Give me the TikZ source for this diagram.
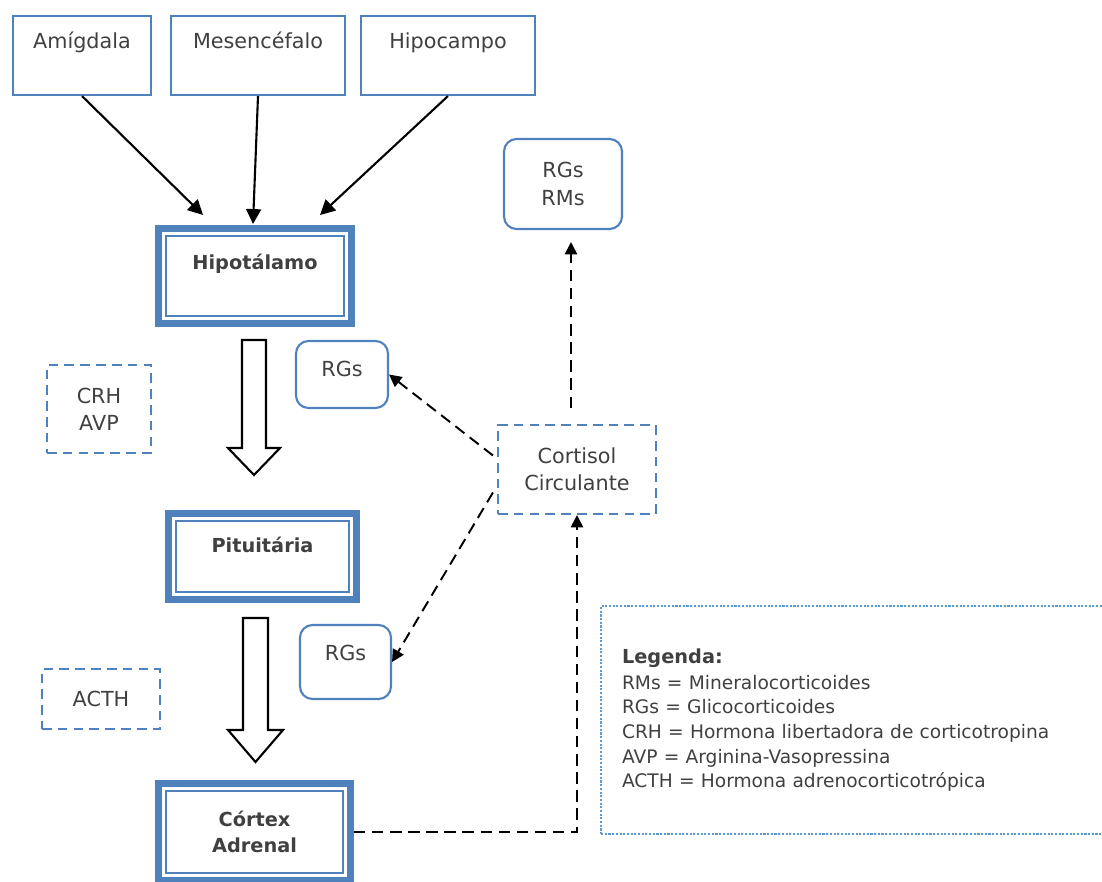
\documentclass[tikz,border=0pt]{standalone}
\usepackage{fontspec}
\setmainfont{DejaVu Sans}
\usepackage{xcolor}
\usepackage{tikz}
\usetikzlibrary{
    calc,
    positioning,
    arrows.meta
}
\definecolor{azul}{HTML}{4F81BD}
\definecolor{azulclaro}{HTML}{5B9BD5}
\definecolor{texto}{HTML}{404040}

\begin{document}
\begin{tikzpicture}[x=0.02cm, y=-0.02cm]
  \useasboundingbox (0,0) rectangle (1102,882);

  % Styles for boxes and arrows
  \tikzset{
    regiao/.style={draw=azul, line width=1.2pt, inner sep=0pt, text=texto,
      font=\fontsize{11.8}{15.5}\selectfont, text height=10pt, text depth=18pt},
    principal/.style={draw=azul, line width=3.9pt, inner sep=0pt, text=texto,
      font=\fontsize{11}{15}\selectfont\bfseries,
      path picture={\draw[azul, line width=1.4pt]
        ([shift={(4.4pt,-4.4pt)}]path picture bounding box.north west) rectangle
        ([shift={(-4.4pt,4.4pt)}]path picture bounding box.south east);}},
    receptor/.style={draw=azul, line width=1.2pt, rounded corners=0.25cm, inner sep=0pt,
      text=texto, align=center, font=\fontsize{11.8}{15.5}\selectfont},
    hormona/.style={draw=azul, line width=1.2pt, dash pattern=on 5.5pt off 3.5pt, inner sep=0pt,
      text=texto, align=center, font=\fontsize{11.8}{15.5}\selectfont},
    legenda/.style={draw=azulclaro, line width=1.2pt, dash pattern=on 1.2pt off 0.9pt,
      inner ysep=0pt, inner xsep=0.42cm, text=texto, align=left,
      font=\fontsize{10.6}{14}\selectfont},
    seta/.style={-{Triangle[length=8.5pt,width=8.5pt]}, line width=1.2pt},
    retro/.style={-{Triangle[length=7pt,width=7pt]}, line width=1.1pt, dash pattern=on 6.5pt off 3.8pt},
    bloco/.style={draw, line width=1.2pt, fill=white}
  }

  % Brain regions on top
  \node[regiao, minimum width=2.76cm, minimum height=1.58cm] (amig) at (82,55.5) {Amígdala};
  \node[regiao, minimum width=3.48cm, minimum height=1.58cm] (mesen) at (258,55.5) {Mesencéfalo};
  \node[regiao, minimum width=3.48cm, minimum height=1.58cm] (hipoc) at (448,55.5) {Hipocampo};

  % The axis
  \node[principal, minimum width=3.86cm, minimum height=1.9cm, text depth=16pt] (hipot) at (255,276) {Hipotálamo};
  \node[principal, minimum width=3.76cm, minimum height=1.72cm, text depth=13pt] (pitu) at (262.5,556.5) {Pituitária};
  \node[principal, minimum width=3.84cm, minimum height=1.94cm, align=center] (cortex) at (254.5,832) {Córtex\\Adrenal};

  % Hormones (dashed)
  \node[hormona, minimum width=2.08cm, minimum height=1.76cm] (crh) at (99,409) {CRH\\AVP};
  \node[hormona, minimum width=2.36cm, minimum height=1.2cm] (acth) at (101,699) {ACTH};
  \node[hormona, minimum width=3.16cm, minimum height=1.78cm] (cortisol) at (577,469.5) {Cortisol\\Circulante};

  % Receptors
  \node[receptor, minimum width=1.84cm, minimum height=1.34cm, text depth=7pt] (rgs1) at (342,374.5) {RGs};
  \node[receptor, minimum width=2.36cm, minimum height=1.8cm] (rgsrm) at (563,184) {RGs\\RMs};
  \node[receptor, minimum width=1.82cm, minimum height=1.48cm, text depth=10pt] (rgs2) at (345.5,662) {RGs};

  % Inputs to the hypothalamus
  \coordinate (hin1) at (203,215);
  \coordinate (hin2) at (253,224);
  \coordinate (hin3) at (320,215);
  \draw[seta] (amig.south) -- (hin1);
  \draw[seta] (mesen.south) -- (hin2);
  \draw[seta] (hipoc.south) -- (hin3);

  % Big hollow arrows
  \draw[bloco] (242,340) -- (266,340) -- (266,448) -- (280,448) -- (254,475)
    -- (228,448) -- (242,448) -- cycle;
  \draw[bloco] (243,618) -- (268,618) -- (268,730) -- (283,730) -- (255.5,762)
    -- (228,730) -- (243,730) -- cycle;

  % Feedback of the cortisol
  \draw[retro] (cortex.east) -| (cortisol.south);
  \draw[retro] ($(cortisol.north)+(-6,-16)$) -- ($(rgsrm.south)+(8,12)$);
  \draw[retro] ($(cortisol.west)+(-4,-14)$) -- (rgs1.east);
  \draw[retro] ($(cortisol.west)+(-4,23)$) -- (rgs2.east);

  % Legend
  \node[legenda, minimum height=4.56cm, text width=9.38cm] (leg) at (856.5,720) {
    {\fontsize{11}{14}\selectfont\bfseries Legenda:}\\[1pt]
    RMs = Mineralocorticoides\\
    RGs = Glicocorticoides\\
    CRH = Hormona libertadora de corticotropina\\
    AVP = Arginina-Vasopressina\\
    ACTH = Hormona adrenocorticotrópica
  };
\end{tikzpicture}
\end{document}
